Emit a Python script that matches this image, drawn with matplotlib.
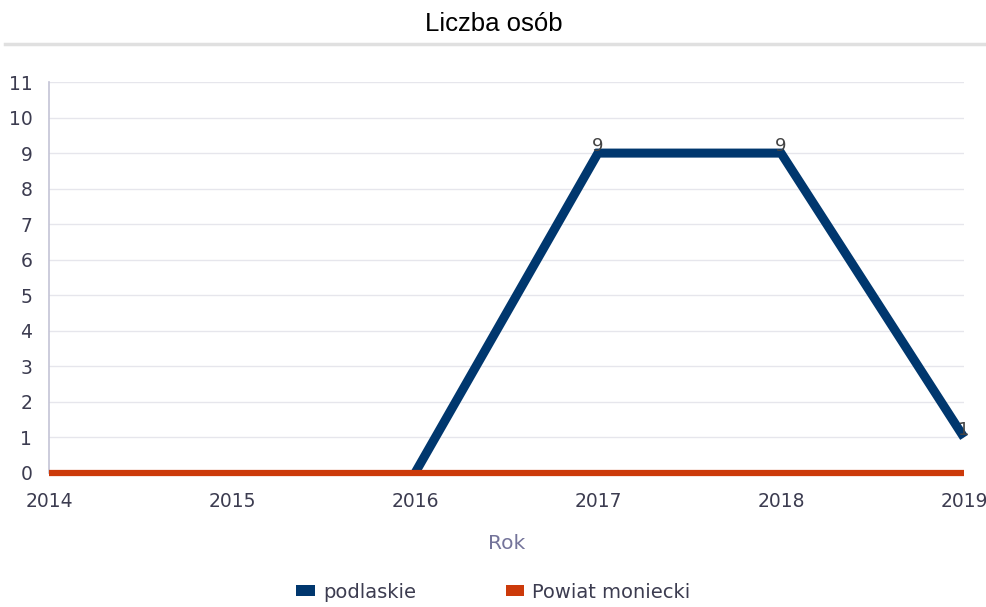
import matplotlib.pyplot as plt
from matplotlib.lines import Line2D
from matplotlib.patches import Patch

# dane
years = [2014, 2015, 2016, 2017, 2018, 2019]
podlaskie = [None, None, 0, 9, 9, 1]
powiat_moniecki = [0, 0, 0, 0, 0, 0]
series_names = ['podlaskie', 'Powiat moniecki']
colors = ['#00376e', '#cc3a0a']

plt.rcParams['font.family'] = ['DejaVu Sans']

fig = plt.figure(figsize=(9.87, 6.07), dpi=100)
ax = fig.add_axes([49 / 987, 1 - 473 / 607, (964 - 49) / 987, (473 - 82) / 607])

podl = [float('nan') if v is None else v for v in podlaskie]

# linie
ax.plot(years, podl, color=colors[0], lw=6.5, solid_capstyle='butt',
        solid_joinstyle='miter', clip_on=False, zorder=3)
ax.plot(years, powiat_moniecki, color=colors[1], lw=4.5, solid_capstyle='butt',
        clip_on=False, zorder=4)

# etykiety wartości (tylko niezerowe)
for x, y in zip(years, podlaskie):
    if y:
        ax.text(x, y - 0.05, str(y), ha='center', va='bottom', fontsize=13,
                color='#444444', zorder=5)

ax.set_xlim(2014, 2019)
ax.set_ylim(0, 11)
ax.set_yticks(range(0, 12))
ax.set_xticks(years)
ax.grid(axis='y', color='#e6e6ec', lw=1)
ax.set_axisbelow(True)
for s in ['top', 'right', 'bottom']:
    ax.spines[s].set_visible(False)
ax.spines['left'].set_color('#c4c4d6')
ax.spines['left'].set_linewidth(1.2)
ax.tick_params(axis='both', length=0, labelsize=13.5, labelcolor='#3c3c50')
ax.tick_params(axis='y', pad=12)
ax.tick_params(axis='x', pad=14)

ax.set_xlabel('Rok', fontsize=14.5, color='#74749a', labelpad=16)

# tytuł i linia pod nim
fig.text(0.5, 1 - 24 / 607, 'Liczba osób', ha='center', va='center',
         fontsize=18.5, family='Liberation Sans', color='#000000')
fig.add_artist(Line2D([5 / 987, 1], [1 - 44 / 607, 1 - 44 / 607],
                      color='#e0e0e0', lw=2.5))

# legenda
handles = [Patch(facecolor=c, edgecolor='none') for c in colors]
fig.legend(handles, series_names, loc='center', bbox_to_anchor=(0.5, 1 - 592 / 607),
           ncol=2, frameon=False, fontsize=14, handlelength=0.95, handleheight=0.5,
           handletextpad=0.43, columnspacing=4.6, labelcolor='#3c3c50')

fig.savefig('out.png', dpi=100)
